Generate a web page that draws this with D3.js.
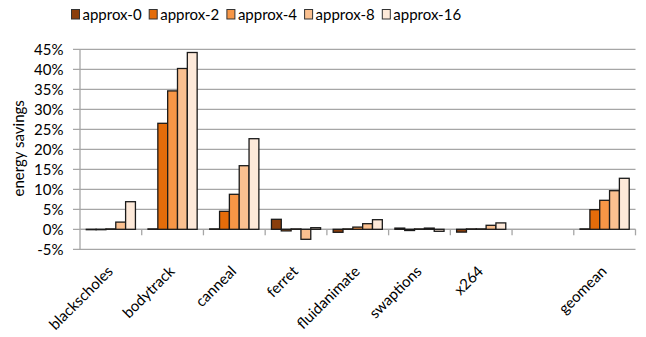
<!DOCTYPE html>
<html>
<head>
<meta charset="utf-8">
<script src="https://cdn.jsdelivr.net/npm/d3@7"></script>
<style>
  html, body { margin: 0; padding: 0; background: #fff; }
  svg { display: block; font-family: Lato, "Open Sans", sans-serif; }
</style>
</head>
<body>
<svg id="chart" width="646" height="337"></svg>
<script>
// Benchmarks on the category axis (blank slot separates geomean)
const categories = ["blackscholes", "bodytrack", "canneal", "ferret", "fluidanimate", "swaptions", "x264", "", "geomean"];
const seriesNames = ["approx-0", "approx-2", "approx-4", "approx-8", "approx-16"];
const seriesColors = ["#8B3E0C", "#E46C0A", "#F79646", "#FAC090", "#FDE9D9"];

// Energy savings in percent, one array per series (aligned with categories)
const approx0  = [-0.1,  0.1,  0.1,  2.5, -0.75,  0.3, -0.7, null,  0.1];
const approx2  = [-0.1, 26.5,  4.5, -0.4,  0.1,  -0.3,  0.1, null,  4.9];
const approx4  = [ 0.1, 34.6,  8.75, 0.1,  0.55,  0.1,  0.1, null,  7.25];
const approx8  = [ 1.8, 40.2, 15.9, -2.5,  1.4,   0.3,  1.0, null,  9.65];
const approx16 = [ 6.9, 44.2, 22.65, 0.4,  2.4,  -0.5,  1.6, null, 12.75];
const seriesValues = [approx0, approx2, approx4, approx8, approx16];

const yTicks = [-5, 0, 5, 10, 15, 20, 25, 30, 35, 40, 45];
const yTitle = "energy savings";

const svg = d3.select("#chart");
const plot = { left: 80, right: 635.5, top: 49.3, bottom: 249.3 };
const fontSize = 15;

const x = d3.scaleBand().domain(categories).range([plot.left, plot.right]).paddingInner(0).paddingOuter(0);
const xs = d3.scaleBand().domain(seriesNames).range([0, x.bandwidth()]).paddingOuter(0.64).paddingInner(0);
const y = d3.scaleLinear().domain([-5, 45]).range([plot.bottom, plot.top]);

// Horizontal gridlines (with short ticks left of the axis)
svg.append("g").selectAll("line").data(yTicks).join("line")
  .attr("x1", plot.left - 7).attr("x2", plot.right)
  .attr("y1", d => y(d)).attr("y2", d => y(d))
  .attr("stroke", "#a6a6a6").attr("stroke-width", 1.3);

// Y axis line
svg.append("line")
  .attr("x1", plot.left).attr("x2", plot.left)
  .attr("y1", y(45)).attr("y2", y(-5))
  .attr("stroke", "#a6a6a6").attr("stroke-width", 1.3);

// Y tick labels
svg.append("g").selectAll("text").data(yTicks).join("text")
  .attr("x", plot.left - 16.5).attr("y", d => y(d))
  .attr("dy", "0.35em").attr("text-anchor", "end")
  .attr("font-size", fontSize).attr("fill", "#000")
  .text(d => d + "%");

// Y axis title
svg.append("text")
  .attr("transform", `translate(19,${(plot.top + plot.bottom) / 2 - 1}) rotate(-90)`)
  .attr("text-anchor", "middle").attr("dy", "0.35em")
  .attr("font-size", fontSize).text(yTitle);

// Category axis along zero with boundary ticks below
svg.append("line")
  .attr("x1", plot.left).attr("x2", plot.right)
  .attr("y1", y(0)).attr("y2", y(0))
  .attr("stroke", "#a6a6a6").attr("stroke-width", 1.3);
const bounds = categories.map(c => x(c)).concat([plot.right]).slice(1);
svg.append("g").selectAll("line").data(bounds).join("line")
  .attr("x1", d => d).attr("x2", d => d)
  .attr("y1", y(0)).attr("y2", y(0) + 6)
  .attr("stroke", "#a6a6a6").attr("stroke-width", 1.3);

// Bars
const barData = [];
categories.forEach((c, i) => {
  seriesNames.forEach((s, j) => {
    const v = seriesValues[j][i];
    if (v !== null && c !== "") barData.push({ c, s, v, color: seriesColors[j] });
  });
});
svg.append("g").selectAll("rect").data(barData).join("rect")
  .attr("x", d => x(d.c) + xs(d.s))
  .attr("width", xs.bandwidth())
  .attr("y", d => y(Math.max(0, d.v)))
  .attr("height", d => Math.abs(y(d.v) - y(0)))
  .attr("fill", d => d.color)
  .attr("stroke", "#1a1a1a").attr("stroke-width", 1.3);

// Rotated category labels
svg.append("g").selectAll("text").data(categories.filter(c => c !== "")).join("text")
  .attr("transform", d => `translate(${x(d) + x.bandwidth() / 2 + 3},${y(0) + 43}) rotate(-45)`)
  .attr("text-anchor", "end")
  .attr("font-size", fontSize).text(d => d);

// Legend
const legend = svg.append("g").selectAll("g").data(seriesNames).join("g")
  .attr("transform", (d, i) => `translate(${71.5 + i * 77.7},9.5)`);
legend.append("rect")
  .attr("width", 8).attr("height", 9.5)
  .attr("fill", (d, i) => seriesColors[i])
  .attr("stroke", "#333").attr("stroke-width", 1);
legend.append("text")
  .attr("x", 11).attr("y", 5).attr("dy", "0.35em")
  .attr("font-size", fontSize).text(d => d);
</script>
</body>
</html>
